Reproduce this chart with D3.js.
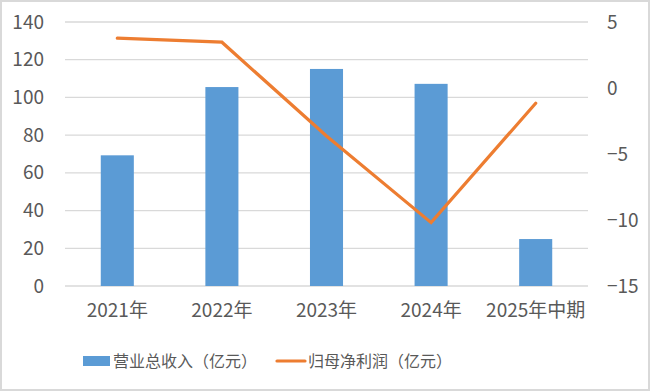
<!DOCTYPE html>
<html>
<head>
<meta charset="utf-8">
<script src="https://cdn.jsdelivr.net/npm/d3@7"></script>
<style>
  html, body { margin: 0; padding: 0; background: #fff; }
  .chartBoard { width: 650px; height: 391px; }
  text { font-family: "Noto Sans CJK SC", "Noto Sans", sans-serif; fill: #595959; }
</style>
</head>
<body>
<div class="chartBoard"></div>
<script>
// chart data
const years = ["2021年", "2022年", "2023年", "2024年", "2025年中期"];
const revenue = [69.3, 105.5, 115.1, 107.2, 24.9];      // 营业总收入（亿元）
const netProfit = [3.78, 3.47, -3.64, -10.2, -1.15];    // 归母净利润（亿元）
const leftTicks = [0, 20, 40, 60, 80, 100, 120, 140];
const rightTicks = [-15, -10, -5, 0, 5];
const legendNames = ["营业总收入（亿元）", "归母净利润（亿元）"];

const w = 650, h = 391;
const plotL = 65, plotR = 588, plotT = 22, plotB = 286;
const barColor = "#5B9BD5", lineColor = "#ED7D31";

const svg = d3.select(".chartBoard")
    .append("svg")
    .attr("width", w)
    .attr("height", h);

// outer border
svg.append("rect")
    .attr("x", 1).attr("y", 1)
    .attr("width", w - 2).attr("height", h - 2)
    .attr("fill", "#fff")
    .attr("stroke", "#D9D9D9")
    .attr("stroke-width", 2);

const xScale = d3.scaleBand()
    .domain(years)
    .range([plotL, plotR])
    .paddingInner(0.684)
    .paddingOuter(0.342);

const yLeft = d3.scaleLinear().domain([0, 140]).range([plotB, plotT]);
const yRight = d3.scaleLinear().domain([-15, 5]).range([plotB, plotT]);

// gridlines
svg.append("g")
    .selectAll("line")
    .data(leftTicks)
    .enter()
    .append("line")
    .attr("x1", plotL).attr("x2", plotR)
    .attr("y1", d => yLeft(d)).attr("y2", d => yLeft(d))
    .attr("stroke", "#D9D9D9")
    .attr("stroke-width", 1.3);

// left axis
const leftAxis = svg.append("g")
    .attr("transform", "translate(44,0)")
    .call(d3.axisLeft(yLeft).tickValues(leftTicks).tickSize(0).tickPadding(0));
leftAxis.select(".domain").remove();
leftAxis.selectAll("text")
    .style("font-size", "19px")
    .attr("fill", "#595959");

// right axis
const rightAxis = svg.append("g")
    .attr("transform", "translate(607,0)")
    .call(d3.axisRight(yRight).tickValues(rightTicks).tickSize(0).tickPadding(0));
rightAxis.select(".domain").remove();
rightAxis.selectAll("text")
    .style("font-size", "19px")
    .attr("fill", "#595959");

// bars
svg.selectAll("rect.bar")
    .data(revenue)
    .enter()
    .append("rect")
    .attr("class", "bar")
    .attr("x", (d, i) => xScale(years[i]))
    .attr("width", xScale.bandwidth())
    .attr("y", d => yLeft(d))
    .attr("height", d => yLeft(0) - yLeft(d))
    .attr("fill", barColor);

// x axis labels
const xAxis = svg.append("g")
    .attr("transform", "translate(0," + (plotB + 17) + ")")
    .call(d3.axisBottom(xScale).tickSize(0).tickPadding(0));
xAxis.select(".domain").remove();
xAxis.selectAll("text")
    .style("font-size", "19px")
    .attr("fill", "#595959");

// line
const line = d3.line()
    .x((d, i) => xScale(years[i]) + xScale.bandwidth() / 2)
    .y(d => yRight(d));

svg.append("path")
    .datum(netProfit)
    .attr("d", line)
    .attr("fill", "none")
    .attr("stroke", lineColor)
    .attr("stroke-width", 3.2)
    .attr("stroke-linejoin", "miter")
    .attr("stroke-linecap", "round");

// legend
const legend = svg.append("g");
legend.append("rect")
    .attr("x", 83).attr("y", 356)
    .attr("width", 27).attr("height", 10)
    .attr("fill", barColor);
legend.append("text")
    .attr("x", 113).attr("y", 361)
    .attr("dy", "0.35em")
    .style("font-size", "16px")
    .text(legendNames[0]);
legend.append("line")
    .attr("x1", 277).attr("x2", 305)
    .attr("y1", 361).attr("y2", 361)
    .attr("stroke", lineColor)
    .attr("stroke-width", 3.2)
    .attr("stroke-linecap", "round");
legend.append("text")
    .attr("x", 308).attr("y", 361)
    .attr("dy", "0.35em")
    .style("font-size", "16px")
    .text(legendNames[1]);
</script>
</body>
</html>
